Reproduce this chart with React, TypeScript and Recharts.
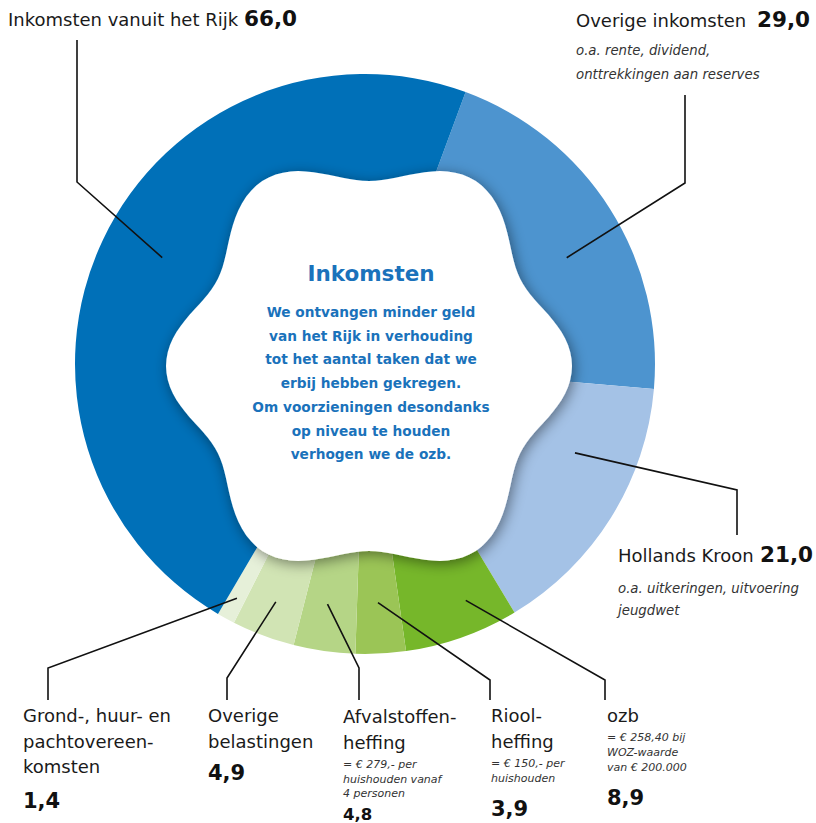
import React from 'react';
import { PieChart, Pie, Cell } from 'recharts';

// slices, clockwise starting at the top-right boundary
const names = [
  'Overige inkomsten',
  'Hollands Kroon',
  'ozb',
  'Rioolheffing',
  'Afvalstoffenheffing',
  'Overige belastingen',
  'Grond-, huur- en pachtovereenkomsten',
  'Inkomsten vanuit het Rijk',
];
const values = [29.0, 21.0, 8.9, 3.9, 4.8, 4.9, 1.4, 66.0];
const colors = ['#4d94cf', '#a4c2e6', '#76b72a', '#9bc556', '#b5d586', '#d1e4b4', '#e6f0d9', '#0070b8'];

const titleLines = [
  ['Overige inkomsten'],
  ['Hollands Kroon'],
  ['ozb'],
  ['Riool-', 'heffing'],
  ['Afvalstoffen-', 'heffing'],
  ['Overige', 'belastingen'],
  ['Grond-, huur- en', 'pachtovereen-', 'komsten'],
  ['Inkomsten vanuit het Rijk'],
];
const noteLines = [
  ['o.a. rente, dividend,', 'onttrekkingen aan reserves'],
  ['o.a. uitkeringen, uitvoering', 'jeugdwet'],
  ['= € 258,40 bij', 'WOZ-waarde', 'van € 200.000'],
  ['= € 150,- per', 'huishouden'],
  ['= € 279,- per', 'huishouden vanaf', '4 personen'],
  [],
  [],
  [],
];

const centerTitle = 'Inkomsten';
const centerText = [
  'We ontvangen minder geld',
  'van het Rijk in verhouding',
  'tot het aantal taken dat we',
  'erbij hebben gekregen.',
  'Om voorzieningen desondanks',
  'op niveau te houden',
  'verhogen we de ozb.',
];

const data = names.map((name, i) => ({ name, value: values[i] }));

const W = 816;
const H = 823;
const CX = 365;
const CY = 364;
const R_OUT = 290;
const START = 90 - 20.3;

const FONT = '"DejaVu Sans", sans-serif';
const RAD = Math.PI / 180;

// label layout: leader anchor (angle tweak, radius), elbow, line end, text block
type Layout = {
  da: number; r: number;
  elbow: [number, number]; end: [number, number];
  x: number; titleY: number; titleStep: number;
  inlineX?: number; valueY?: number; valueSize?: number;
  noteY?: number; noteStep?: number; noteSize?: number;
};
const layout: Layout[] = [
  { da: 4.6, r: 228, elbow: [685, 183], end: [685, 95], x: 576, titleY: 27, titleStep: 0, inlineX: 757, noteY: 55, noteStep: 24, noteSize: 13.3 },
  { da: -9, r: 228, elbow: [737, 490], end: [737, 535], x: 618, titleY: 562, titleStep: 0, inlineX: 760, noteY: 593, noteStep: 22, noteSize: 13.3 },
  { da: -3.5, r: 257, elbow: [605, 680], end: [605, 700], x: 607, titleY: 722, titleStep: 25, valueY: 805, valueSize: 21, noteY: 741, noteStep: 15, noteSize: 11 },
  { da: 0, r: 239, elbow: [490, 680], end: [490, 700], x: 491, titleY: 722, titleStep: 25.5, valueY: 816, valueSize: 21, noteY: 767, noteStep: 15, noteSize: 11 },
  { da: 0.8, r: 243, elbow: [359, 668], end: [359, 700], x: 343, titleY: 723, titleStep: 26, valueY: 820, valueSize: 16.5, noteY: 768, noteStep: 14.5, noteSize: 11 },
  { da: 0, r: 254, elbow: [227, 678], end: [227, 700], x: 208, titleY: 722, titleStep: 25.5, valueY: 780, valueSize: 21 },
  { da: 0, r: 267, elbow: [48, 668], end: [48, 700], x: 23, titleY: 722, titleStep: 25.5, valueY: 808, valueSize: 21 },
  { da: 2.3, r: 229, elbow: [77, 182], end: [77, 40], x: 8, titleY: 26, titleStep: 0, inlineX: 244 },
];

const fmt = (v: number) => v.toFixed(1).replace('.', ',');

const renderLabel = (props: any) => {
  const { cx, cy, midAngle, index } = props;
  const l = layout[index];
  const a = (midAngle - l.da) * RAD;
  const sx = cx + l.r * Math.cos(a);
  const sy = cy - l.r * Math.sin(a);
  const titles = titleLines[index];
  const notes = noteLines[index];
  return (
    <g key={`lbl-${index}`}>
      <polyline
        points={`${sx},${sy} ${l.elbow[0]},${l.elbow[1]} ${l.end[0]},${l.end[1]}`}
        fill="none"
        stroke="#111"
        strokeWidth={1.6}
      />
      {titles.map((t, k) => (
        <text key={k} x={l.x} y={l.titleY + k * l.titleStep} fontFamily={FONT} fontSize={18} fill="#1a1a1a">
          {t}
        </text>
      ))}
      {l.inlineX !== undefined && (
        <text x={l.inlineX} y={l.titleY} fontFamily={FONT} fontSize={21.5} fontWeight="bold" fill="#111">
          {fmt(values[index])}
        </text>
      )}
      {l.valueY !== undefined && (
        <text x={l.x} y={l.valueY} fontFamily={FONT} fontSize={l.valueSize} fontWeight="bold" fill="#111">
          {fmt(values[index])}
        </text>
      )}
      {notes.map((t, k) => (
        <text key={`n${k}`} x={l.x} y={(l.noteY || 0) + k * (l.noteStep || 0)} fontFamily={FONT} fontSize={l.noteSize} fontStyle="italic" fill="#333">
          {t}
        </text>
      ))}
    </g>
  );
};

// wavy six-lobed centre shape
const flowerPath = () => {
  const pts: string[] = [];
  const fx = CX + 4;
  const fy = CY + 2;
  for (let i = 0; i <= 360; i += 2) {
    const t = i * RAD;
    const r = 194 + 16 * Math.cos(6 * t) - 7 * Math.cos(2 * t);
    pts.push(`${(fx + r * Math.cos(t)).toFixed(1)},${(fy + r * Math.sin(t)).toFixed(1)}`);
  }
  return `M${pts.join('L')}Z`;
};

export default function App() {
  return (
    <div style={{ position: 'relative', width: W, height: H, background: '#fff' }}>
      <style>{'body{margin:0;}'}</style>
      <PieChart width={W} height={H} margin={{ top: 0, right: 0, bottom: 0, left: 0 }}>
        <Pie
          data={data}
          dataKey="value"
          nameKey="name"
          cx={CX}
          cy={CY}
          innerRadius={150}
          outerRadius={R_OUT}
          startAngle={START}
          endAngle={START - 360}
          stroke="none"
          label={renderLabel}
          labelLine={false}
          isAnimationActive={false}
        >
          {data.map((d, i) => (
            <Cell key={d.name} fill={colors[i]} />
          ))}
        </Pie>
      </PieChart>
      <svg width={W} height={H} style={{ position: 'absolute', left: 0, top: 0, pointerEvents: 'none' }}>
        <defs>
          <filter id="fshadow" x="-20%" y="-20%" width="140%" height="140%">
            <feDropShadow dx={2} dy={3} stdDeviation={7} floodColor="#000" floodOpacity={0.45} />
          </filter>
        </defs>
        <path d={flowerPath()} fill="#fff" filter="url(#fshadow)" />
        <text x={CX + 6} y={281} textAnchor="middle" fontFamily={FONT} fontSize={21.5} fontWeight="bold" fill="#1a72bb">
          {centerTitle}
        </text>
        {centerText.map((t, k) => (
          <text key={k} x={CX + 6} y={317 + k * 23.7} textAnchor="middle" fontFamily={FONT} fontSize={13.7} fontWeight="bold" fill="#1a72bb">
            {t}
          </text>
        ))}
      </svg>
    </div>
  );
}
